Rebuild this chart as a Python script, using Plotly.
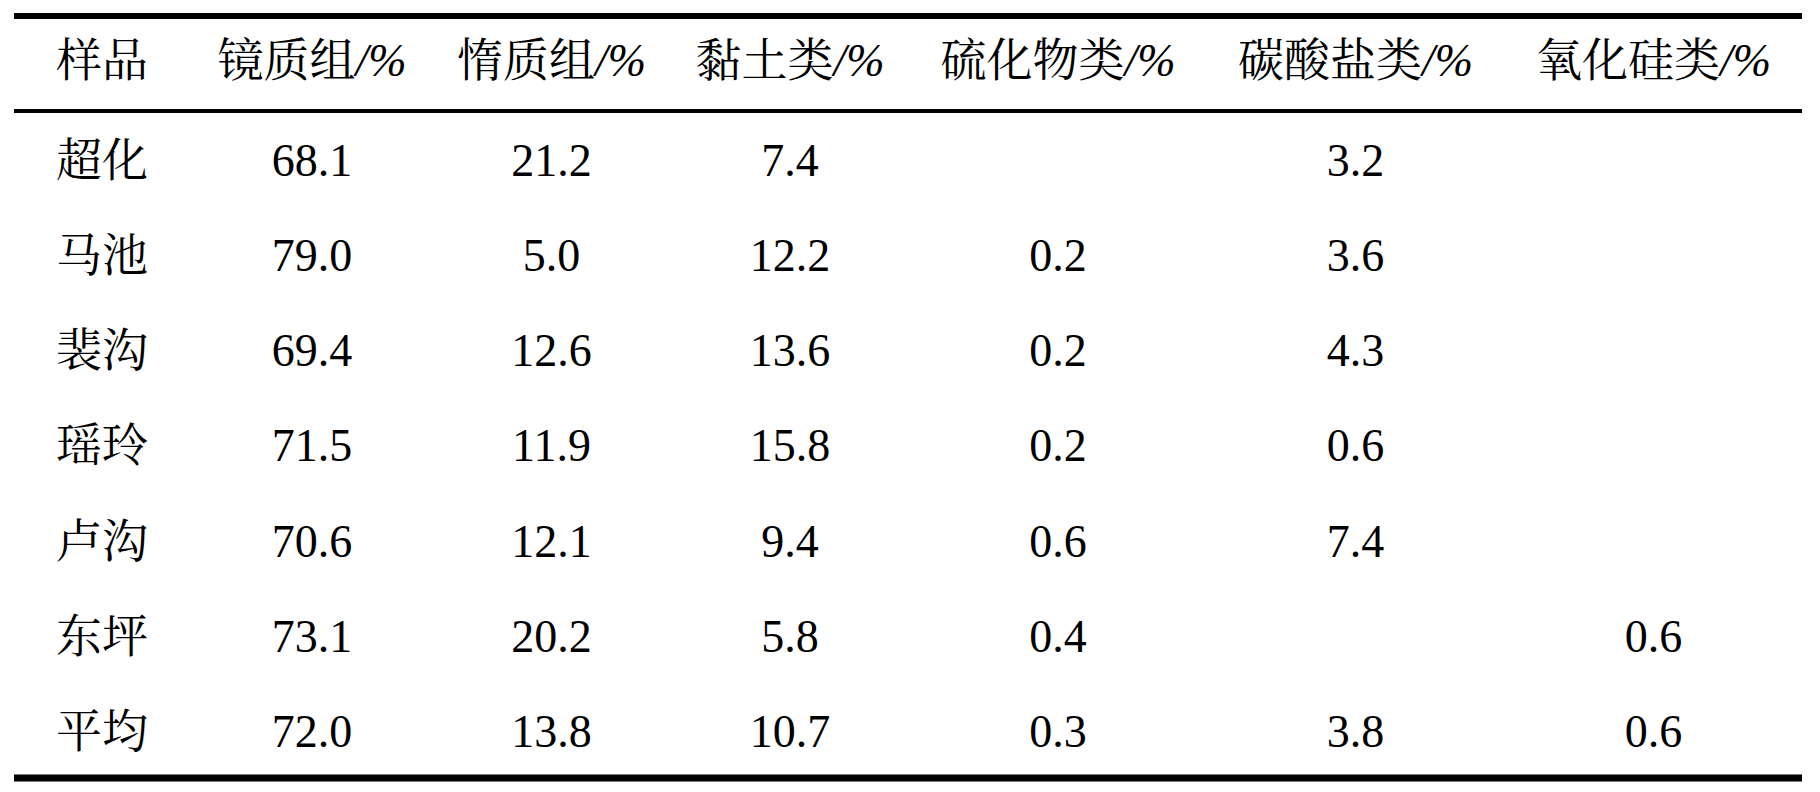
import plotly.graph_objects as go

# table content
samples = ["超化", "马池", "裴沟", "瑶玲", "卢沟", "东坪", "平均"]
headers = ["样品", "镜质组/%", "惰质组/%", "黏土类/%", "硫化物类/%", "碳酸盐类/%", "氧化硅类/%"]
vitrinite = [68.1, 79.0, 69.4, 71.5, 70.6, 73.1, 72.0]
inertinite = [21.2, 5.0, 12.6, 11.9, 12.1, 20.2, 13.8]
clay = [7.4, 12.2, 13.6, 15.8, 9.4, 5.8, 10.7]
sulfide = [None, 0.2, 0.2, 0.2, 0.6, 0.4, 0.3]
carbonate = [3.2, 3.6, 4.3, 0.6, 7.4, None, 3.8]
silica = [None, None, None, None, None, 0.6, 0.6]

columns = [vitrinite, inertinite, clay, sulfide, carbonate, silica]

# layout, in screen pixels (page body has an 8px margin)
W, H = 1820, 792
OFF = 8
left = 14
col_widths = [177, 242, 237, 240, 296, 299, 297]
label_pad = 42
header_y = 64
row_y0 = 164
row_step = 95.3
font_family = "Liberation Serif, Noto Serif CJK SC"
font_size = 46

edges = [left]
for w in col_widths:
    edges.append(edges[-1] + w)
centers = [(a + b) / 2 for a, b in zip(edges[:-1], edges[1:])]
right = edges[-1]
row_ys = [row_y0 + i * row_step for i in range(len(samples))]


def fmt_header(h):
    # the unit part is set in italics in the original
    if h.endswith("/%"):
        return h[:-2] + "<i>/%</i>"
    return h


text_font = dict(family=font_family, size=font_size, color="black")

fig = go.Figure()

# header row
fig.add_trace(go.Scatter(
    x=[edges[0] + label_pad],
    y=[header_y],
    mode="text",
    text=[headers[0]],
    textposition="middle right",
    textfont=text_font,
    hoverinfo="skip",
))
fig.add_trace(go.Scatter(
    x=centers[1:],
    y=[header_y] * (len(headers) - 1),
    mode="text",
    text=[fmt_header(h) for h in headers[1:]],
    textposition="middle center",
    textfont=text_font,
    hoverinfo="skip",
))

# sample names
fig.add_trace(go.Scatter(
    x=[edges[0] + label_pad] * len(samples),
    y=row_ys,
    mode="text",
    text=samples,
    textposition="middle right",
    textfont=text_font,
    hoverinfo="skip",
))

# value cells (empty cells are skipped)
for cx, vals in zip(centers[1:], columns):
    xs, ys, txt = [], [], []
    for y, v in zip(row_ys, vals):
        if v is None:
            continue
        xs.append(cx)
        ys.append(y)
        txt.append(f"{v:.1f}")
    fig.add_trace(go.Scatter(
        x=xs, y=ys,
        mode="text",
        text=txt,
        textposition="middle center",
        textfont=text_font,
        hoverinfo="skip",
    ))

# three-line table rules
for y, lw in [(16, 6), (111, 4), (778, 7)]:
    fig.add_shape(type="line", xref="x", yref="y",
                  x0=left, x1=right, y0=y, y1=y,
                  line=dict(color="black", width=lw))

fig.update_layout(
    width=W - OFF,
    height=H - OFF,
    autosize=False,
    margin=dict(l=0, r=0, t=0, b=0),
    font=dict(family=font_family, size=font_size, color="black"),
    plot_bgcolor="white",
    paper_bgcolor="white",
    showlegend=False,
)
fig.update_xaxes(range=[OFF, W], visible=False, fixedrange=True)
fig.update_yaxes(range=[H, OFF], visible=False, fixedrange=True)

fig.write_html("out.html", config={"displayModeBar": False})
